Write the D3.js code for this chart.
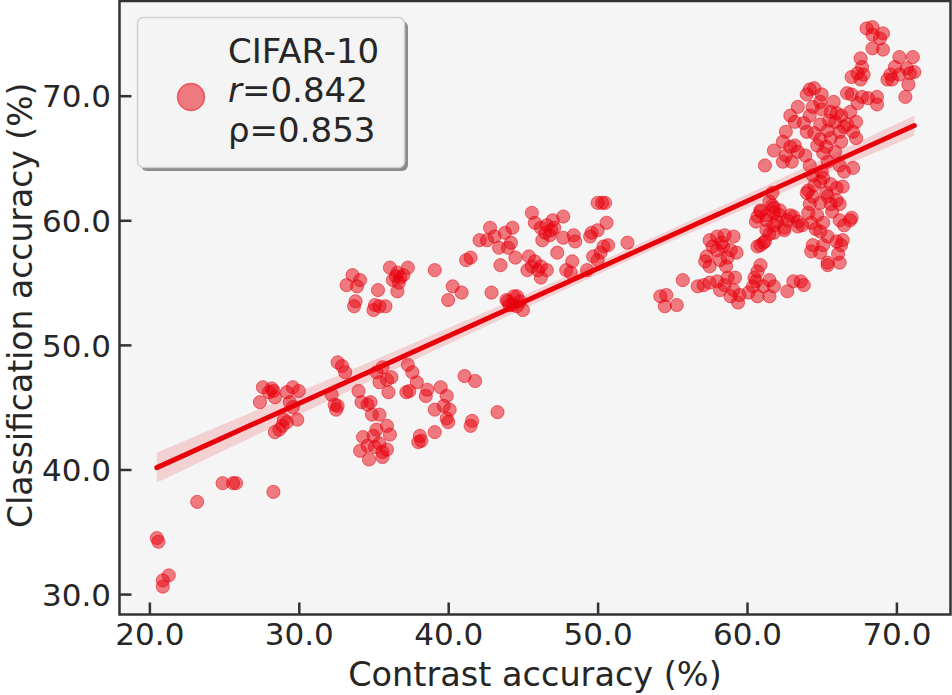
<!DOCTYPE html>
<html>
<head>
<meta charset="utf-8">
<script src="https://cdn.jsdelivr.net/npm/d3@7"></script>
<style>
  body { margin: 0; background: #fff; }
  text { font-family: "DejaVu Sans", sans-serif; fill: #262626; }
</style>
</head>
<body>
<div id="chart"></div>
<script>
// points: [contrast accuracy, classification accuracy]
const points = [
  [20.5,34.5],[20.6,34.2],[20.9,31.1],[21.3,31.5],[20.9,30.6],[23.2,37.4],[24.9,38.9],[25.6,38.9],[25.8,38.9],[28.3,38.2],
  [27.6,46.6],[28.2,46.5],[27.4,45.4],[28.0,46.2],[28.4,45.8],[28.3,46.3],[29.2,46.2],[29.6,46.6],[30.0,46.3],[29.4,45.4],
  [29.6,45.0],[29.9,44.0],[29.0,44.0],[28.9,43.5],[28.4,43.0],[28.7,43.2],[29.2,43.8],[32.6,48.6],[32.9,48.3],[33.1,47.8],
  [32.2,46.0],[32.4,45.2],[32.6,45.1],[32.5,44.8],[34.0,46.3],[34.2,45.4],[34.6,45.2],[34.8,45.4],[34.9,44.4],[35.4,44.4],
  [35.2,47.8],[35.6,48.2],[35.9,47.2],[36.2,47.4],[36.0,46.2],[35.4,47.0],[35.9,43.5],[36.1,42.8],[35.2,43.2],[35.0,42.7],
  [34.3,42.6],[34.6,41.9],[34.1,41.5],[34.7,40.8],[35.4,42.1],[35.6,41.4],[35.6,41.0],[35.9,41.6],[35.1,41.8],[37.3,48.4],
  [37.6,47.8],[37.9,47.0],[37.2,46.2],[37.4,46.3],[38.6,46.4],[38.5,45.9],[39.5,46.6],[39.9,45.9],[39.1,44.8],[39.7,45.1],
  [40.1,44.8],[39.9,44.1],[40.0,43.8],[38.1,42.7],[38.2,42.3],[38.0,42.2],[39.1,43.0],[41.1,47.5],[41.8,47.1],[41.6,43.9],
  [41.5,43.5],[43.3,44.6],
  [33.6,55.6],[34.1,55.2],[33.2,54.8],[33.9,54.7],[33.8,53.5],[33.7,53.1],[35.3,54.4],[35.1,53.2],[35.4,53.1],[35.8,53.1],
  [35.0,52.8],[36.1,56.2],[36.6,55.8],[36.8,55.4],[36.3,55.2],[37.3,56.2],[36.6,54.3],[37.0,55.6],[36.5,55.5],[36.7,55.0],
  [39.1,56.0],[40.3,54.7],[40.9,54.2],[40.0,53.6],[41.2,56.8],[41.5,57.0],[42.9,54.2],[43.5,56.4],[44.0,53.5],[44.3,53.2],
  [44.6,53.9],
  [42.8,59.4],[42.6,58.4],[43.1,58.7],[43.8,59.0],[44.3,59.4],[43.4,57.8],[44.0,57.8],[44.2,58.2],[44.5,57.0],[45.4,57.1],
  [45.3,56.0],[45.8,56.7],[46.2,56.3],[46.2,55.4],[46.6,56.0],[45.6,60.6],[45.8,59.8],[46.2,59.4],[46.6,59.6],[47.0,60.0],
  [47.7,60.3],[47.1,59.4],[46.8,58.8],[46.3,58.4],[47.7,58.6],[47.3,57.4],[48.4,58.8],[48.5,58.3],[48.3,56.7],[47.9,56.0],
  [48.2,55.8],[49.3,56.0],[49.6,59.0],[50.0,59.2],[49.5,58.7],[50.3,61.4],[50.5,61.4],[50.0,61.4],[50.6,59.8],[50.4,57.9],
  [50.2,57.4],[50.0,56.8],[49.7,57.1],[50.7,58.0],[52.0,58.2],[43.9,53.6],[44.4,53.9],[44.8,53.5],[45.0,52.8],[44.1,53.2],
  [44.6,53.1],[46.5,59.0],[46.9,59.2],[46.0,56.0],[45.6,56.3],[42.1,58.4],
  [54.2,53.9],[54.6,54.0],[54.5,53.1],[55.3,53.2],[55.7,55.2],[56.7,54.7],[57.1,54.8],[57.5,55.0],[58.0,55.1],[58.2,54.4],
  [58.5,54.8],[58.7,55.4],[59.2,55.4],[59.1,54.4],[58.9,53.9],[59.4,53.4],[59.5,54.0],[60.1,54.2],[60.4,54.7],[60.5,55.4],
  [60.7,55.9],[60.9,56.4],[60.6,55.1],[60.7,53.9],[61.1,54.7],[61.5,55.2],[61.8,54.7],[61.5,53.9],[62.7,54.3],[63.1,55.1],
  [63.6,55.1],[63.8,54.8],[57.5,58.4],[58.0,58.7],[58.5,58.8],[59.1,58.7],[57.7,57.9],[58.4,57.9],[58.9,57.6],[59.3,57.4],
  [57.3,57.1],[57.2,56.7],[57.5,56.3],[58.6,56.3],[58.2,56.8],[58.0,57.6],[58.3,58.2],[58.7,57.0],[60.9,60.8],[61.7,61.2],
  [61.8,60.6],[62.2,60.8],[61.3,60.0],[62.0,59.9],[62.7,60.0],[63.1,60.3],[63.4,59.5],[60.7,60.3],[61.3,59.2],[61.8,59.0],
  [61.1,58.2],[60.7,57.9],[62.5,59.2],[61.7,62.2],
  [68.0,75.4],[68.4,75.5],[68.4,74.9],[69.1,75.0],[68.9,74.6],[68.4,73.8],[69.1,73.7],[67.6,73.0],[67.7,72.3],[67.4,71.8],
  [67.0,71.5],[67.8,71.7],[67.6,71.3],[70.2,73.1],[71.1,73.1],[69.9,72.3],[70.7,72.2],[71.2,71.9],[69.6,71.7],[70.2,71.7],
  [70.9,71.8],[69.4,71.3],[69.7,71.3],[70.8,70.9],[70.6,69.9],[66.7,70.2],[67.0,70.1],[67.7,69.9],[68.1,69.8],[68.7,69.9],
  [68.7,69.3],[67.4,69.4],[64.2,70.5],[64.5,70.6],[64.0,70.1],[65.0,70.1],[64.9,69.5],[63.4,69.1],[64.4,69.1],[62.9,68.4],
  [63.2,67.9],[64.2,68.4],[65.6,68.7],[66.0,68.6],[66.3,68.4],[66.9,68.7],[67.3,67.9],[66.7,67.7],[65.9,67.9],[64.9,67.7],
  [65.4,67.2],[64.0,67.1],[62.6,67.1],[64.5,67.0],[66.2,67.1],[67.1,67.1],[66.3,66.3],[67.3,66.6],[65.6,66.6],[64.9,66.5],
  [62.4,66.3],[62.9,65.9],[63.2,66.0],[63.4,65.5],[63.9,65.2],[62.6,65.2],[61.8,65.6],[61.2,64.4],[62.4,64.7],[63.0,64.7],
  [64.2,64.4],[65.1,65.4],[65.9,65.5],[65.4,64.7],[66.2,64.4],[67.1,64.2],[66.5,63.9],[65.0,63.9],[64.4,63.6],[65.1,63.4],
  [65.6,62.9],[64.9,63.1],[64.1,62.4],[66.0,62.6],[64.4,61.9],[65.4,61.9],[66.0,61.6],[64.2,61.3],[64.9,61.4],[65.6,61.3],
  [66.2,61.3],[64.1,60.6],[64.7,60.4],[64.3,59.8],[65.1,59.8],[66.2,60.0],[67.0,60.2],[66.5,59.6],[64.9,59.1],[65.4,58.7],
  [64.4,58.0],[65.1,58.0],[66.0,58.3],[66.3,58.0],[64.3,57.5],[64.9,57.4],[66.1,57.3],[65.4,56.6],[66.2,56.6],[61.5,61.5],
  [61.8,61.0],[60.9,60.7],[61.3,60.4],[62.2,60.4],[62.9,60.4],[63.4,59.9],[63.7,59.6],[61.8,59.6],[62.5,59.4],[60.6,59.9],
  [61.5,58.9],[60.9,58.0],[61.2,58.3],[66.9,60.0],[66.4,58.4],[65.4,56.4],[64.0,62.2],[65.5,68.0],[65.0,68.9],[65.8,69.5],
  [64.7,66.0],[65.3,65.9],[63.8,67.8],[66.5,67.5],[64.5,62.8],[65.3,62.2],[65.7,60.7],[64.6,59.3],[66.4,62.7]
];

// fitted line (ends of the regression line)
const fitEnds = [[20.5, 40.15], [71.2, 67.6]];

const xTicks = [20, 30, 40, 50, 60, 70];
const yTicks = [30, 40, 50, 60, 70];
const legendLines = ["CIFAR-10", "r=0.842", "ρ=0.853"];

const red = "#e8000b";
const W = 952, H = 695;
const margin = {top: 1, right: 1.5, bottom: 80, left: 119.5};
const width = W - margin.left - margin.right,
      height = H - margin.top - margin.bottom - 0.5;

const svg = d3.select("#chart").append("svg")
  .attr("width", W)
  .attr("height", H);

const g = svg.append("g")
  .attr("transform", `translate(${margin.left}, ${margin.top})`);

const x = d3.scaleLinear().domain([18.0, 73.62]).range([0, width]);
const y = d3.scaleLinear().domain([28.36, 77.6]).range([height, 0]);

g.append("rect")
  .attr("width", width)
  .attr("height", height)
  .attr("fill", "#f5f5f5");

// fit line and a 95% band around it
const slope = (fitEnds[1][1] - fitEnds[0][1]) / (fitEnds[1][0] - fitEnds[0][0]);
const icpt = fitEnds[0][1] - slope * fitEnds[0][0];
const n = points.length;
const mx = d3.mean(points, d => d[0]);
const sxx = d3.sum(points, d => (d[0] - mx) ** 2);
const s = Math.sqrt(d3.sum(points, d => (d[1] - (icpt + slope * d[0])) ** 2) / (n - 2));
const [x0, x1] = [fitEnds[0][0], fitEnds[1][0]];
const grid = d3.range(0, 101).map(i => x0 + (x1 - x0) * i / 100);
const band = grid.map(v => {
  const half = 1.97 * s * Math.sqrt(1 / n + (v - mx) ** 2 / sxx);
  const f = icpt + slope * v;
  return {x: v, lo: f - half, hi: f + half};
});

g.append("path")
  .datum(band)
  .attr("fill", red)
  .attr("fill-opacity", 0.15)
  .attr("d", d3.area().x(d => x(d.x)).y0(d => y(d.lo)).y1(d => y(d.hi)));

g.selectAll("circle.pt")
  .data(points)
  .enter()
  .append("circle")
  .attr("class", "pt")
  .attr("cx", d => x(d[0]))
  .attr("cy", d => y(d[1]))
  .attr("r", 6.6)
  .attr("fill", red)
  .attr("fill-opacity", 0.5)
  .attr("stroke", red)
  .attr("stroke-opacity", 0.5)
  .attr("stroke-width", 1);

g.append("path")
  .datum(fitEnds)
  .attr("fill", "none")
  .attr("stroke", red)
  .attr("stroke-width", 5)
  .attr("stroke-linecap", "round")
  .attr("d", d3.line().x(d => x(d[0])).y(d => y(d[1])));

// axes with inward ticks
const xAxis = g.append("g")
  .attr("transform", `translate(0, ${height})`)
  .call(d3.axisBottom(x).tickValues(xTicks).tickFormat(d3.format(".1f")).tickSize(-12).tickPadding(17));
const yAxis = g.append("g")
  .call(d3.axisLeft(y).tickValues(yTicks).tickFormat(d3.format(".1f")).tickSize(-12).tickPadding(8.5));

[xAxis, yAxis].forEach(a => {
  a.select(".domain").remove();
  a.selectAll(".tick line").attr("stroke", "#333").attr("stroke-width", 2.5);
  a.selectAll(".tick text").attr("font-size", 31).attr("fill", "#262626")
    .style("font-family", "DejaVu Sans");
});
xAxis.selectAll(".tick text").attr("dy", "0.45em");
yAxis.selectAll(".tick text").attr("dy", "0.36em");

g.append("rect")
  .attr("width", width)
  .attr("height", height)
  .attr("fill", "none")
  .attr("stroke", "#333")
  .attr("stroke-width", 2.5);

svg.append("text")
  .attr("x", margin.left + width / 2)
  .attr("y", 686)
  .attr("text-anchor", "middle")
  .attr("font-size", 33.5)
  .text("Contrast accuracy (%)");

svg.append("text")
  .attr("transform", `translate(31.5, ${margin.top + height / 2 - 2.5}) rotate(-90)`)
  .attr("text-anchor", "middle")
  .attr("font-size", 33)
  .text("Classification accuracy (%)");

// legend
const lg = svg.append("g");
lg.append("rect")
  .attr("x", 141).attr("y", 21).attr("width", 267).attr("height", 150).attr("rx", 6)
  .attr("fill", "#8c8c8c");
lg.append("rect")
  .attr("x", 137.5).attr("y", 17.5).attr("width", 267).attr("height", 150).attr("rx", 6)
  .attr("fill", "#f4f4f4").attr("stroke", "#d0d0d0").attr("stroke-width", 1.5);
lg.append("circle")
  .attr("cx", 191).attr("cy", 97).attr("r", 13.5)
  .attr("fill", red).attr("fill-opacity", 0.5)
  .attr("stroke", red).attr("stroke-opacity", 0.5).attr("stroke-width", 1.5);

const baselines = [63, 102, 142];
legendLines.forEach((t, i) => {
  const tx = lg.append("text")
    .attr("x", 228).attr("y", baselines[i])
    .attr("font-size", 34);
  if (t.startsWith("r=")) {
    tx.append("tspan").attr("font-style", "italic").text("r");
    tx.append("tspan").text(t.slice(1));
  } else {
    tx.text(t);
  }
});
</script>
</body>
</html>
